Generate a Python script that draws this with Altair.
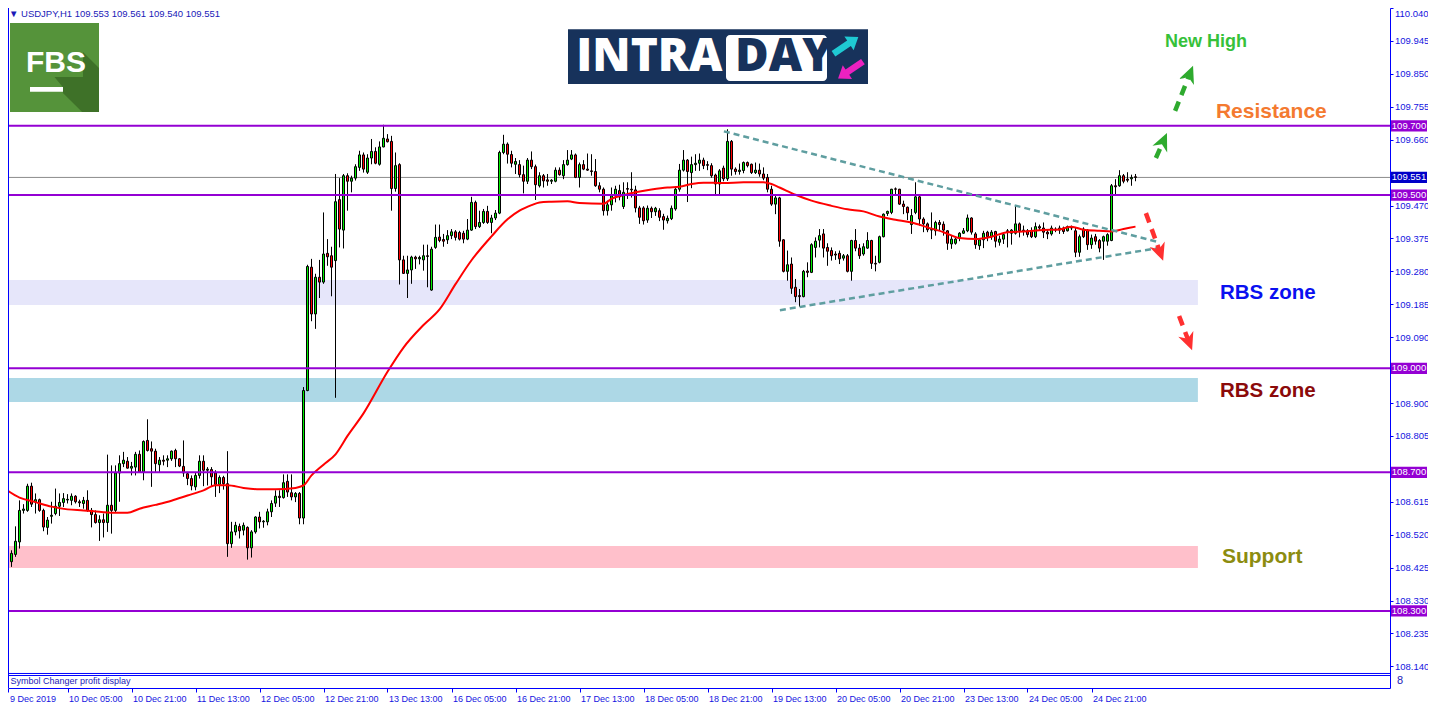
import json
import altair as alt
import pandas as pd

# ---------------- candle data (USDJPY H1) ----------------
opens = [108.475, 108.458, 108.442, 108.463, 108.499, 108.590, 108.590, 108.660, 108.615, 108.621,
         108.590, 108.541, 108.573, 108.581, 108.602, 108.613, 108.620, 108.619, 108.631, 108.615,
         108.610, 108.619, 108.590, 108.578, 108.555, 108.563, 108.555, 108.605, 108.590, 108.698,
         108.725, 108.732, 108.712, 108.715, 108.752, 108.701, 108.792, 108.768, 108.761, 108.722,
         108.735, 108.735, 108.739, 108.763, 108.739, 108.717, 108.696, 108.682, 108.658, 108.691,
         108.732, 108.706, 108.708, 108.698, 108.665, 108.685, 108.667, 108.494, 108.528, 108.544,
         108.533, 108.541, 108.482, 108.528, 108.571, 108.557, 108.557, 108.586, 108.611, 108.631,
         108.627, 108.674, 108.641, 108.629, 108.639, 108.568, 108.936, 109.292, 109.157, 109.263,
         109.249, 109.332, 109.325, 109.311, 109.487, 109.399, 109.556, 109.540, 109.549, 109.580,
         109.616, 109.566, 109.607, 109.626, 109.589, 109.639, 109.662, 109.655, 109.519, 109.588,
         109.313, 109.274, 109.284, 109.321, 109.316, 109.313, 109.325, 109.226, 109.349, 109.379,
         109.372, 109.371, 109.383, 109.394, 109.392, 109.390, 109.373, 109.399, 109.479, 109.409,
         109.421, 109.453, 109.421, 109.434, 109.448, 109.623, 109.647, 109.617, 109.589, 109.588,
         109.559, 109.540, 109.601, 109.582, 109.527, 109.556, 109.544, 109.540, 109.540, 109.572,
         109.556, 109.588, 109.604, 109.616, 109.551, 109.588, 109.575, 109.570, 109.568, 109.527,
         109.517, 109.455, 109.472, 109.498, 109.513, 109.467, 109.519, 109.517, 109.515, 109.463,
         109.463, 109.428, 109.462, 109.452, 109.455, 109.438, 109.426, 109.432, 109.460, 109.517,
         109.572, 109.601, 109.565, 109.588, 109.592, 109.601, 109.588, 109.585, 109.558, 109.532,
         109.578, 109.547, 109.655, 109.575, 109.568, 109.571, 109.594, 109.589, 109.565, 109.572,
         109.561, 109.551, 109.517, 109.474, 109.492, 109.371, 109.280, 109.301, 109.234, 109.210,
         109.207, 109.281, 109.277, 109.349, 109.370, 109.388, 109.349, 109.340, 109.330, 109.332,
         109.318, 109.325, 109.280, 109.369, 109.347, 109.330, 109.347, 109.369, 109.303, 109.306,
         109.380, 109.447, 109.450, 109.518, 109.517, 109.474, 109.465, 109.415, 109.450, 109.495,
         109.431, 109.417, 109.399, 109.397, 109.421, 109.416, 109.397, 109.359, 109.361, 109.376,
         109.390, 109.397, 109.434, 109.388, 109.354, 109.371, 109.393, 109.380, 109.395, 109.364,
         109.373, 109.397, 109.390, 109.390, 109.417, 109.399, 109.397, 109.397, 109.380, 109.409,
         109.405, 109.393, 109.388, 109.402, 109.399, 109.405, 109.397, 109.407, 109.397, 109.335,
         109.402, 109.399, 109.357, 109.380, 109.369, 109.367, 109.367, 109.369, 109.527, 109.527,
         109.556, 109.546, 109.547, 109.553]
highs = [108.487, 108.466, 108.475, 108.544, 108.619, 108.608, 108.667, 108.670, 108.639, 108.624,
         108.595, 108.571, 108.615, 108.653, 108.639, 108.640, 108.637, 108.639, 108.634, 108.621,
         108.629, 108.648, 108.597, 108.590, 108.576, 108.581, 108.751, 108.720, 108.720, 108.749,
         108.759, 108.744, 108.730, 108.759, 108.763, 108.792, 108.853, 108.789, 108.768, 108.744,
         108.749, 108.749, 108.763, 108.768, 108.741, 108.792, 108.701, 108.691, 108.701, 108.749,
         108.749, 108.715, 108.715, 108.706, 108.691, 108.690, 108.761, 108.557, 108.557, 108.552,
         108.555, 108.544, 108.533, 108.573, 108.586, 108.562, 108.595, 108.619, 108.648, 108.648,
         108.694, 108.694, 108.694, 108.643, 108.643, 108.946, 109.299, 109.316, 109.273, 109.313,
         109.450, 109.373, 109.351, 109.561, 109.549, 109.561, 109.563, 109.556, 109.589, 109.628,
         109.623, 109.618, 109.662, 109.638, 109.655, 109.703, 109.676, 109.671, 109.623, 109.592,
         109.325, 109.325, 109.325, 109.325, 109.325, 109.357, 109.357, 109.351, 109.415, 109.415,
         109.388, 109.399, 109.402, 109.399, 109.397, 109.397, 109.431, 109.495, 109.484, 109.455,
         109.460, 109.469, 109.443, 109.457, 109.628, 109.674, 109.652, 109.628, 109.607, 109.601,
         109.585, 109.607, 109.626, 109.588, 109.566, 109.561, 109.561, 109.546, 109.580, 109.580,
         109.601, 109.630, 109.630, 109.620, 109.594, 109.601, 109.620, 109.618, 109.604, 109.537,
         109.522, 109.484, 109.522, 109.527, 109.530, 109.537, 109.537, 109.566, 109.527, 109.469,
         109.468, 109.470, 109.467, 109.466, 109.462, 109.446, 109.441, 109.470, 109.525, 109.590,
         109.630, 109.604, 109.611, 109.618, 109.620, 109.608, 109.598, 109.592, 109.562, 109.575,
         109.585, 109.690, 109.659, 109.580, 109.591, 109.597, 109.597, 109.591, 109.594, 109.591,
         109.580, 109.561, 109.527, 109.498, 109.495, 109.373, 109.340, 109.320, 109.258, 109.229,
         109.284, 109.306, 109.361, 109.378, 109.402, 109.402, 109.361, 109.349, 109.338, 109.340,
         109.330, 109.330, 109.371, 109.402, 109.359, 109.361, 109.393, 109.371, 109.325, 109.383,
         109.447, 109.455, 109.518, 109.522, 109.518, 109.484, 109.467, 109.460, 109.537, 109.498,
         109.436, 109.421, 109.450, 109.426, 109.428, 109.424, 109.399, 109.383, 109.378, 109.393,
         109.405, 109.444, 109.436, 109.393, 109.373, 109.397, 109.397, 109.399, 109.397, 109.383,
         109.390, 109.402, 109.402, 109.469, 109.421, 109.412, 109.402, 109.407, 109.421, 109.415,
         109.421, 109.402, 109.412, 109.407, 109.412, 109.409, 109.412, 109.412, 109.405, 109.386,
         109.407, 109.402, 109.386, 109.388, 109.373, 109.383, 109.390, 109.532, 109.546, 109.572,
         109.561, 109.566, 109.559, 109.561]
lows = [108.442, 108.427, 108.427, 108.456, 108.480, 108.581, 108.586, 108.600, 108.581, 108.586,
        108.530, 108.520, 108.552, 108.576, 108.574, 108.600, 108.610, 108.605, 108.610, 108.600,
        108.595, 108.586, 108.541, 108.552, 108.502, 108.512, 108.528, 108.523, 108.585, 108.615,
        108.715, 108.711, 108.691, 108.691, 108.698, 108.677, 108.760, 108.658, 108.701, 108.701,
        108.720, 108.715, 108.733, 108.715, 108.715, 108.687, 108.663, 108.648, 108.648, 108.682,
        108.660, 108.662, 108.658, 108.629, 108.640, 108.650, 108.456, 108.482, 108.518, 108.509,
        108.518, 108.448, 108.454, 108.523, 108.538, 108.540, 108.547, 108.571, 108.600, 108.600,
        108.624, 108.629, 108.619, 108.614, 108.550, 108.550, 108.934, 109.136, 109.114, 109.203,
        109.244, 109.296, 109.208, 108.915, 109.349, 109.346, 109.455, 109.508, 109.542, 109.570,
        109.565, 109.561, 109.589, 109.589, 109.585, 109.638, 109.652, 109.455, 109.510, 109.242,
        109.273, 109.203, 109.244, 109.287, 109.300, 109.282, 109.234, 109.224, 109.345, 109.364,
        109.351, 109.359, 109.373, 109.369, 109.369, 109.361, 109.370, 109.397, 109.402, 109.405,
        109.417, 109.417, 109.390, 109.428, 109.445, 109.618, 109.591, 109.580, 109.561, 109.551,
        109.505, 109.532, 109.575, 109.486, 109.522, 109.522, 109.527, 109.532, 109.537, 109.556,
        109.546, 109.585, 109.601, 109.549, 109.522, 109.572, 109.570, 109.556, 109.524, 109.508,
        109.441, 109.441, 109.455, 109.479, 109.485, 109.460, 109.489, 109.493, 109.450, 109.417,
        109.415, 109.420, 109.434, 109.440, 109.425, 109.400, 109.418, 109.428, 109.455, 109.510,
        109.568, 109.480, 109.520, 109.570, 109.570, 109.575, 109.572, 109.550, 109.500, 109.500,
        109.540, 109.541, 109.556, 109.559, 109.559, 109.563, 109.580, 109.561, 109.561, 109.553,
        109.543, 109.508, 109.469, 109.445, 109.351, 109.277, 109.253, 109.215, 109.191, 109.178,
        109.205, 109.263, 109.275, 109.320, 109.349, 109.320, 109.296, 109.311, 109.313, 109.301,
        109.311, 109.277, 109.253, 109.338, 109.316, 109.325, 109.345, 109.287, 109.280, 109.303,
        109.378, 109.440, 109.445, 109.498, 109.472, 109.445, 109.428, 109.388, 109.445, 109.412,
        109.393, 109.393, 109.373, 109.383, 109.399, 109.383, 109.342, 109.345, 109.357, 109.367,
        109.388, 109.393, 109.386, 109.345, 109.342, 109.347, 109.367, 109.371, 109.349, 109.354,
        109.359, 109.349, 109.357, 109.386, 109.378, 109.383, 109.378, 109.376, 109.376, 109.397,
        109.376, 109.373, 109.383, 109.393, 109.388, 109.388, 109.395, 109.399, 109.321, 109.322,
        109.376, 109.342, 109.345, 109.357, 109.335, 109.313, 109.354, 109.367, 109.498, 109.524,
        109.534, 109.537, 109.527, 109.540]
closes = [108.458, 108.442, 108.466, 108.501, 108.590, 108.594, 108.660, 108.608, 108.621, 108.590,
          108.542, 108.562, 108.576, 108.602, 108.613, 108.624, 108.622, 108.631, 108.615, 108.612,
          108.619, 108.590, 108.578, 108.555, 108.563, 108.555, 108.605, 108.590, 108.698, 108.725,
          108.735, 108.712, 108.717, 108.752, 108.701, 108.789, 108.763, 108.761, 108.725, 108.735,
          108.732, 108.739, 108.761, 108.739, 108.718, 108.698, 108.682, 108.661, 108.691, 108.732,
          108.706, 108.709, 108.687, 108.665, 108.685, 108.667, 108.494, 108.528, 108.547, 108.531,
          108.547, 108.482, 108.528, 108.571, 108.557, 108.559, 108.586, 108.610, 108.631, 108.627,
          108.670, 108.643, 108.629, 108.639, 108.568, 108.936, 109.294, 109.157, 109.263, 109.249,
          109.330, 109.322, 109.292, 109.481, 109.402, 109.556, 109.540, 109.549, 109.582, 109.616,
          109.575, 109.607, 109.626, 109.592, 109.639, 109.664, 109.654, 109.519, 109.585, 109.313,
          109.274, 109.284, 109.321, 109.316, 109.320, 109.325, 109.323, 109.344, 109.378, 109.369,
          109.367, 109.383, 109.394, 109.378, 109.373, 109.373, 109.399, 109.479, 109.409, 109.421,
          109.453, 109.421, 109.434, 109.448, 109.623, 109.647, 109.618, 109.592, 109.597, 109.559,
          109.540, 109.601, 109.582, 109.530, 109.556, 109.541, 109.540, 109.543, 109.572, 109.559,
          109.588, 109.601, 109.616, 109.551, 109.588, 109.575, 109.572, 109.568, 109.527, 109.517,
          109.455, 109.472, 109.498, 109.517, 109.495, 109.508, 109.517, 109.515, 109.463, 109.436,
          109.426, 109.462, 109.452, 109.462, 109.436, 109.428, 109.433, 109.462, 109.517, 109.572,
          109.601, 109.568, 109.588, 109.592, 109.601, 109.585, 109.586, 109.556, 109.532, 109.570,
          109.547, 109.655, 109.575, 109.568, 109.572, 109.594, 109.585, 109.565, 109.572, 109.561,
          109.549, 109.517, 109.474, 109.492, 109.367, 109.280, 109.299, 109.231, 109.207, 109.207,
          109.280, 109.277, 109.357, 109.367, 109.383, 109.347, 109.338, 109.325, 109.327, 109.316,
          109.325, 109.280, 109.369, 109.347, 109.325, 109.351, 109.369, 109.303, 109.301, 109.380,
          109.445, 109.453, 109.517, 109.517, 109.474, 109.467, 109.449, 109.441, 109.495, 109.431,
          109.417, 109.400, 109.401, 109.421, 109.415, 109.399, 109.361, 109.373, 109.373, 109.390,
          109.397, 109.434, 109.393, 109.357, 109.371, 109.390, 109.380, 109.393, 109.367, 109.373,
          109.386, 109.395, 109.399, 109.417, 109.397, 109.397, 109.386, 109.380, 109.409, 109.405,
          109.393, 109.388, 109.405, 109.399, 109.405, 109.395, 109.409, 109.405, 109.335, 109.380,
          109.380, 109.357, 109.376, 109.367, 109.347, 109.380, 109.386, 109.527, 109.524, 109.556,
          109.540, 109.543, 109.551, 109.551]

# moving average (red line), read at selected bars
ma_idx = [0, 4, 8, 12, 16, 20, 24, 28, 31, 34, 38, 42, 46, 50, 53, 56, 60, 64, 68, 73,
          75, 77, 80, 83, 86, 90, 96, 100, 105, 109, 113, 117, 122, 126, 129, 132, 134, 137, 141, 144,
          150, 152, 155, 158, 162, 166, 169, 172, 175, 180, 185, 190, 192, 194, 198, 202, 207, 211, 215, 219,
          223, 227, 231, 235, 239, 243, 247, 251, 255, 260, 264, 267, 270, 274, 277, 280, 283]
ma_val = [108.655, 108.627, 108.614, 108.601, 108.593, 108.590, 108.586, 108.583, 108.583, 108.595,
          108.606, 108.618, 108.633, 108.648, 108.663, 108.663, 108.655, 108.651, 108.651, 108.655,
          108.662, 108.691, 108.722, 108.752, 108.805, 108.870, 108.990, 109.060, 109.125, 109.170,
          109.243, 109.312, 109.381, 109.430, 109.455, 109.471, 109.479, 109.481, 109.482, 109.477,
          109.475, 109.489, 109.500, 109.508, 109.516, 109.522, 109.524, 109.532, 109.536, 109.535,
          109.537, 109.537, 109.532, 109.522, 109.501, 109.484, 109.469, 109.459, 109.453, 109.438,
          109.429, 109.421, 109.407, 109.393, 109.376, 109.373, 109.380, 109.393, 109.395, 109.399,
          109.401, 109.409, 109.400, 109.397, 109.395, 109.402, 109.409]

# horizontal levels, bid line, zones
levels = [109.700, 109.500, 109.000, 108.700, 108.300]
bid_price = 109.551
zone_lo = [109.183, 108.903, 108.424]
zone_hi = [109.255, 108.972, 108.487]
zone_fill = ["#E6E6FA", "#ADD8E6", "#FFC0CB"]
zone_start, zone_end = 1.125, 298.6

# axis ticks (labels hidden behind the level boxes in the original are left out)
y_ticks = [110.040, 109.945, 109.850, 109.755, 109.660, 109.470, 109.375, 109.280,
           109.185, 109.090, 108.900, 108.805, 108.615, 108.520, 108.425,
           108.330, 108.235, 108.140]
x_tick_idx = [1.25, 16, 32, 48, 64, 80, 96, 112, 128, 144, 160, 176, 192, 208, 224, 240, 256, 272]
x_tick_labels = ["9 Dec 2019", "10 Dec 05:00", "10 Dec 21:00", "11 Dec 13:00", "12 Dec 05:00",
                 "12 Dec 21:00", "13 Dec 13:00", "16 Dec 05:00", "16 Dec 21:00", "17 Dec 13:00",
                 "18 Dec 05:00", "18 Dec 21:00", "19 Dec 13:00", "20 Dec 05:00", "20 Dec 21:00",
                 "23 Dec 13:00", "24 Dec 05:00", "24 Dec 21:00"]

# triangle trend lines
trend_id = ["upper", "upper", "lower", "lower"]
trend_x = [180.1, 288.6, 194.1, 288.6]
trend_y = [109.684, 109.365, 109.168, 109.347]

# dashed arrows
arrow_id = ["A", "A", "B", "B", "C", "C", "D", "D"]
arrow_x = [288.1, 289.9, 292.9, 296.5, 285.6, 289.1, 293.9, 296.3]
arrow_y = [109.607, 109.654, 109.743, 109.848, 109.448, 109.336, 109.151, 109.078]
arrow_col = ["#2EAA2E"] * 4 + ["#FF3030"] * 4
head_x = [289.9, 296.5, 289.1, 296.3]
head_y = [109.654, 109.848, 109.336, 109.078]
head_angle = [24, 22, 160, 159]
head_col = ["#2EAA2E", "#2EAA2E", "#FF3030", "#FF3030"]

# annotation texts
ann_text = ["New High", "Resistance", "RBS zone", "RBS zone", "Support"]
ann_x = [290.4, 303.1, 304.1, 304.1, 304.6]
ann_y = [109.942, 109.740, 109.217, 108.935, 108.456]
ann_col = ["#36C13A", "#F47A30", "#0A10F0", "#8B0A0A", "#8C8C10"]
ann_fs = [18, 21, 20.5, 20.5, 21]

# right-axis price boxes
box_price = [109.700, 109.500, 109.000, 108.700, 108.300, 109.551]
box_col = ["#9400D3"] * 5 + ["#0000C8"]

# chart frame / sub-window border levels
frame_levels = [108.1194, 108.1136]

# ---------------- chart ----------------
XS = alt.Scale(domain=[1.125, 346.625], nice=False, zero=False)
YS = alt.Scale(domain=[108.0775, 110.040], nice=False, zero=False)
FRAME = "#0000FF"
TXT = "#1414E0"

x_axis = alt.Axis(values=x_tick_idx, labelExpr=json.dumps(x_tick_labels) + "[round(datum.value/16)]",
                  labelAlign="left", labelBaseline="top", labelPadding=2, labelOffset=1,
                  tickSize=4, tickColor=FRAME, domainColor=FRAME, labelColor=TXT,
                  labelFont="Liberation Sans", labelFontSize=9, grid=False, title=None,
                  labelOverlap=False, labelFlush=False, zindex=0)
y_axis = alt.Axis(orient="right", values=y_ticks, format=".3f", tickSize=3, labelPadding=1.5,
                  tickColor=FRAME, domainColor=FRAME, labelColor=TXT, labelFont="Liberation Sans",
                  labelFontSize=9.5, grid=False, title=None, labelOverlap=False, labelFlush=True, zindex=0)


def X(f):
    return alt.X(f, type="quantitative", scale=XS, axis=x_axis)


def Y(f):
    return alt.Y(f, type="quantitative", scale=YS, axis=y_axis)


n = len(opens)
candles = pd.DataFrame({"idx": list(range(n)), "open": opens, "high": highs, "low": lows, "close": closes})
candles["fill"] = ["#00EE00" if c >= o else "#FF0000" for o, c in zip(opens, closes)]

zones = pd.DataFrame({"lo": zone_lo, "hi": zone_hi, "fill": zone_fill, "x0": zone_start, "x1": zone_end})
zone_layer = alt.Chart(zones).mark_rect().encode(
    x=X("x0"), x2="x1", y=Y("lo"), y2="hi", color=alt.Color("fill:N", scale=None))

bid_layer = alt.Chart(pd.DataFrame({"p": [bid_price]})).mark_rule(color="#8C8C8C", strokeWidth=1).encode(y=Y("p"))

wick_layer = alt.Chart(candles).mark_rule(color="black", strokeWidth=1).encode(
    x=X("idx"), y=Y("low"), y2="high")

body_layer = alt.Chart(candles).transform_calculate(
    xa="datum.idx - 0.25", xb="datum.idx + 0.25").mark_rect(stroke="black", strokeWidth=1).encode(
    x=X("xa:Q"), x2="xb:Q", y=Y("open"), y2="close", color=alt.Color("fill:N", scale=None))

ma_layer = alt.Chart(pd.DataFrame({"i": ma_idx, "v": ma_val})).mark_line(
    color="#FF0000", strokeWidth=2, interpolate="monotone").encode(x=X("i"), y=Y("v"))

level_layer = alt.Chart(pd.DataFrame({"p": levels})).mark_rule(color="#9400D3", strokeWidth=2).encode(y=Y("p"))

sub_layer = alt.Chart(pd.DataFrame({"p": frame_levels})).mark_rule(color=FRAME, strokeWidth=1).encode(y=Y("p"))
left_layer = alt.Chart(pd.DataFrame({"i": [1.25]})).mark_rule(color=FRAME, strokeWidth=1).encode(x=X("i"))

trend_layer = alt.Chart(pd.DataFrame({"id": trend_id, "x": trend_x, "y": trend_y})).mark_line(
    color="#5F9EA0", strokeWidth=2.5, strokeDash=[6, 4]).encode(x=X("x"), y=Y("y"), detail="id:N")

shaft_layer = alt.Chart(pd.DataFrame({"id": arrow_id, "x": arrow_x, "y": arrow_y, "c": arrow_col})).mark_line(
    strokeWidth=4.5, strokeDash=[10, 7]).encode(x=X("x"), y=Y("y"), detail="id:N",
                                                   color=alt.Color("c:N", scale=None))

head_layer = alt.Chart(pd.DataFrame({"x": head_x, "y": head_y, "a": head_angle, "c": head_col})).mark_point(
    shape="M0,-1L0.85,0.85L0,0.3L-0.85,0.85Z", filled=True, size=360, opacity=1).encode(
    x=X("x"), y=Y("y"), angle=alt.Angle("a:Q", scale=None), color=alt.Color("c:N", scale=None))

ann_layer = alt.Chart(pd.DataFrame({"t": ann_text, "x": ann_x, "y": ann_y, "c": ann_col, "fs": ann_fs})).mark_text(
    align="left", baseline="middle", font="Liberation Sans", fontWeight="bold").encode(
    x=X("x"), y=Y("y"), text="t:N", color=alt.Color("c:N", scale=None), size=alt.Size("fs:Q", scale=None))

# FBS logo
fbs_sq = alt.Chart(pd.DataFrame({"x0": [1.625], "x1": [23.875], "y0": [109.740], "y1": [109.997]})).mark_rect(
    color="#55933A").encode(x=X("x0"), x2="x1", y=Y("y0"), y2="y1")
fbs_shadow = alt.Chart(pd.DataFrame({"x": [12.75], "y": [109.868]})).mark_point(
    shape="M0.64,-0.35L1,0.01L1,1L0.62,1L0.19,0.57L0.19,0.44L0.0,0.21L0.64,0.21Z",
    filled=True, size=7921, color="#3E7128", opacity=1).encode(x=X("x"), y=Y("y"))
fbs_bar = alt.Chart(pd.DataFrame({"x0": [6.625], "x1": [14.875], "y0": [109.798], "y1": [109.812]})).mark_rect(
    color="white").encode(x=X("x0"), x2="x1", y=Y("y0"), y2="y1")
fbs_txt = alt.Chart(pd.DataFrame({"x": [13.125], "y": [109.881], "t": ["FBS"]})).mark_text(
    font="Liberation Sans", fontWeight="bold",
    fontSize=30, color="white", align="center", baseline="middle").encode(x=X("x"), y=Y("y"), text="t:N")

# INTRADAY logo
intra_bg = alt.Chart(pd.DataFrame({"x0": [141.125], "x1": [216.125], "y0": [109.821], "y1": [109.979]})).mark_rect(
    color="#17325B").encode(x=X("x0"), x2="x1", y=Y("y0"), y2="y1")
intra_box = alt.Chart(pd.DataFrame({"x0": [180.625], "x1": [205.875], "y0": [109.829], "y1": [109.962]})).mark_rect(
    color="white", cornerRadius=4).encode(x=X("x0"), x2="x1", y=Y("y0"), y2="y1")
intra_txt = alt.Chart(pd.DataFrame({"x": [143.2, 182.9], "y": [109.899, 109.899], "t": ["INTRA", "DAY"],
                                    "c": ["white", "#17325B"]})).mark_text(
    font="Open Sans", fontWeight=800, fontSize=46, align="left", baseline="middle").encode(
    x=X("x"), y=Y("y"), text="t:N", color=alt.Color("c:N", scale=None))
intra_arrows = alt.Chart(pd.DataFrame({"x": [210.6, 211.75], "y": [109.932, 109.861], "a": [56, 236],
                                       "c": ["#1FC9D3", "#EC21C0"]})).mark_point(
    shape="M0,-1L0.55,-0.25L0.22,-0.25L0.22,1L-0.22,1L-0.22,-0.25L-0.55,-0.25Z",
    filled=True, size=900, opacity=1).encode(
    x=X("x"), y=Y("y"), angle=alt.Angle("a:Q", scale=None), color=alt.Color("c:N", scale=None))

# header and sub-window texts
hdr = alt.Chart(pd.DataFrame({"x": [1.375], "y": [110.0235],
                              "t": ["\u25BC USDJPY,H1  109.553 109.561 109.540 109.551"]})).mark_text(
    font="Liberation Sans", fontSize=9.5, color="#1A1AB8", align="left", baseline="middle").encode(
    x=X("x"), y=Y("y"), text="t:N")
sub_txt = alt.Chart(pd.DataFrame({"x": [1.75, 348.375], "y": [108.0963, 108.0963],
                                  "t": ["Symbol Changer profit display", "8"], "fs": [9, 11]})).mark_text(
    font="Liberation Sans", color="#1A1AB8", align="left", baseline="middle").encode(
    x=X("x"), y=Y("y"), text="t:N", size=alt.Size("fs:Q", scale=None))

# price boxes on the right axis
boxes = pd.DataFrame({"p": box_price, "c": box_col, "lbl": [f"{v:.3f}" for v in box_price]})
box_layer = alt.Chart(boxes).transform_calculate(
    y0="datum.p - 0.0163", y1="datum.p + 0.0163", x0="346.875", x1="355.875").mark_rect().encode(
    x=X("x0:Q"), x2="x1:Q", y=Y("y0:Q"), y2="y1:Q", color=alt.Color("c:N", scale=None))
box_txt = alt.Chart(boxes).transform_calculate(xc="351.375").mark_text(
    font="Liberation Sans", fontSize=9.5, color="white", align="center", baseline="middle").encode(
    x=X("xc:Q"), y=Y("p"), text="lbl:N")

chart = alt.layer(
    zone_layer, bid_layer, wick_layer, body_layer, ma_layer, level_layer, sub_layer, left_layer,
    trend_layer, shaft_layer, head_layer, ann_layer,
    fbs_sq, fbs_shadow, fbs_bar, fbs_txt, intra_bg, intra_box, intra_txt, intra_arrows,
    hdr, sub_txt, box_layer, box_txt
).properties(
    width=1382, height=680,
    autosize=alt.AutoSizeParams(type="none"),
    padding={"left": 0, "top": 0, "right": 38, "bottom": 14},
    background="white"
).configure_view(stroke=None)

chart.save("out.html", embed_options={"renderer": "svg", "actions": False})
